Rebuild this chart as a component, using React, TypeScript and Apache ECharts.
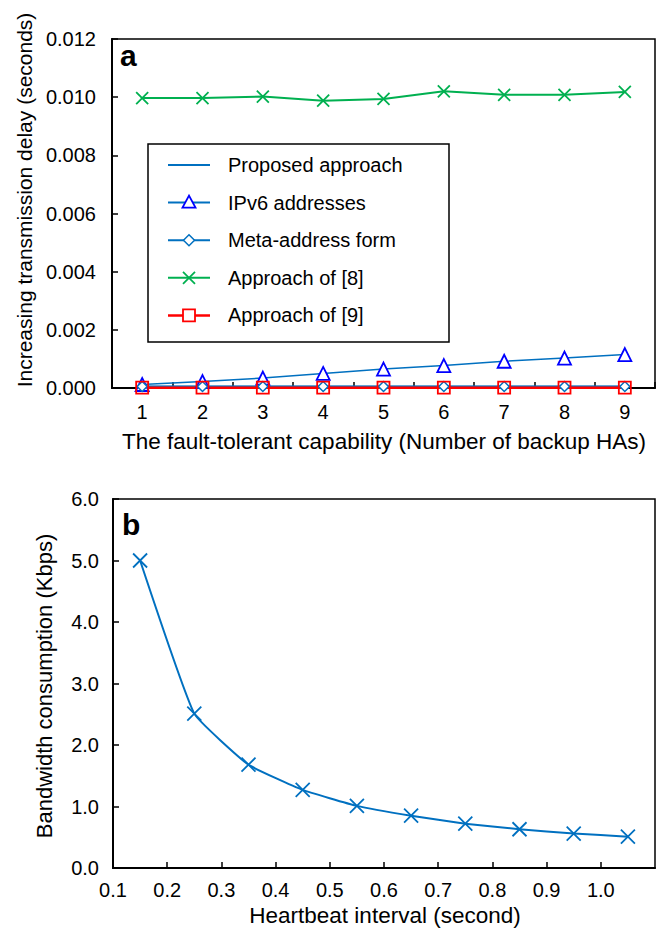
import React, { useEffect, useRef } from "react";
import * as echarts from "echarts";

const capabilityLabels = ["1", "2", "3", "4", "5", "6", "7", "8", "9"];
const proposedDelay = [0.00005, 0.00005, 0.00005, 0.00005, 0.00005, 0.00005, 0.00005, 0.00005, 0.00005];
const ipv6Delay = [0.00012, 0.00022, 0.00034, 0.0005, 0.00065, 0.00077, 0.00092, 0.00103, 0.00115];
const metaDelay = [0.00005, 0.00005, 0.00005, 0.00005, 0.00005, 0.00005, 0.00005, 0.00005, 0.00005];
const approach8Delay = [0.00997, 0.00997, 0.01002, 0.00988, 0.00994, 0.0102, 0.01008, 0.01008, 0.01018];
const approach9Delay = [0.00001, 0.00001, 0.00001, 0.00001, 0.00001, 0.00001, 0.00001, 0.00001, 0.00001];

const heartbeatInterval = [0.15, 0.25, 0.35, 0.45, 0.55, 0.65, 0.75, 0.85, 0.95, 1.05];
const bandwidth = [5.0, 2.51, 1.68, 1.27, 1.01, 0.85, 0.72, 0.63, 0.56, 0.51];

const seriesNames = ["Proposed approach", "IPv6 addresses", "Meta-address form", "Approach of [8]", "Approach of [9]"];

const FONT = "'Liberation Sans', Arial, Helvetica, sans-serif";
const X_SYMBOL = "path://M0 0L10 10M10 0L0 10";
const BLUE = "#0070C0";
const TRI = "#0000FF";
const GREEN = "#00B050";
const RED = "#FF0000";

function legendGraphics() {
  const items: any[] = [];
  const x0 = 168;
  const x1 = 210;
  const cx = (x0 + x1) / 2;
  const lineColors = [BLUE, BLUE, BLUE, GREEN, RED];
  seriesNames.forEach((name, i) => {
    const y = 165 + 37.6 * i;
    items.push({
      type: "line",
      z: 10,
      shape: { x1: x0, y1: y, x2: x1, y2: y },
      style: { stroke: lineColors[i], lineWidth: i === 4 ? 2.5 : 2 },
    });
    if (i === 1) {
      items.push({
        type: "polygon",
        z: 11,
        shape: { points: [[cx, y - 7], [cx - 6.5, y + 5], [cx + 6.5, y + 5]] },
        style: { fill: "#fff", stroke: TRI, lineWidth: 1.8 },
      });
    } else if (i === 2) {
      items.push({
        type: "polygon",
        z: 11,
        shape: { points: [[cx, y - 5.5], [cx + 5.5, y], [cx, y + 5.5], [cx - 5.5, y]] },
        style: { fill: "#fff", stroke: BLUE, lineWidth: 1.5 },
      });
    } else if (i === 3) {
      items.push({
        type: "line",
        z: 11,
        shape: { x1: cx - 6, y1: y - 6, x2: cx + 6, y2: y + 6 },
        style: { stroke: GREEN, lineWidth: 1.8 },
      });
      items.push({
        type: "line",
        z: 11,
        shape: { x1: cx - 6, y1: y + 6, x2: cx + 6, y2: y - 6 },
        style: { stroke: GREEN, lineWidth: 1.8 },
      });
    } else if (i === 4) {
      items.push({
        type: "rect",
        z: 11,
        shape: { x: cx - 6, y: y - 6, width: 12, height: 12 },
        style: { fill: "#fff", stroke: RED, lineWidth: 1.8 },
      });
    }
    items.push({
      type: "text",
      z: 11,
      x: 228,
      y,
      style: { text: name, fontSize: 20, fontFamily: FONT, fill: "#000", verticalAlign: "middle", align: "left" },
    });
  });
  return items;
}

export default function App() {
  const ref = useRef<HTMLDivElement>(null);
  useEffect(() => {
    if (!ref.current) return;
    const chart = echarts.init(ref.current, null, { renderer: "svg" });
    const axisLine = { show: true, lineStyle: { color: "#000", width: 2 } };
    const axisTick = { show: true, inside: true, length: 6, lineStyle: { color: "#000", width: 1.5 } };
    const labelStyle = { color: "#000", fontSize: 20, fontFamily: FONT };
    const titleStyle = (size: number) => ({
      fontSize: size,
      fontFamily: FONT,
      fill: "#000",
      align: "center",
      verticalAlign: "middle",
    });
    const option: any = {
      animation: false,
      backgroundColor: "#fff",
      textStyle: { fontFamily: FONT },
      grid: [
        { left: 112, top: 39, width: 543, height: 349, show: true, borderColor: "#000", borderWidth: 1.5, containLabel: false },
        { left: 113, top: 499, width: 542, height: 369, show: true, borderColor: "#000", borderWidth: 1.5, containLabel: false },
      ],
      xAxis: [
        {
          type: "category",
          gridIndex: 0,
          data: capabilityLabels,
          boundaryGap: true,
          axisLine,
          axisTick: { ...axisTick, interval: 0, alignWithLabel: false },
          axisLabel: { ...labelStyle, margin: 14, interval: 0 },
          splitLine: { show: false },
        },
        {
          type: "value",
          gridIndex: 1,
          min: 0.1,
          max: 1.1,
          interval: 0.1,
          axisLine,
          axisTick,
          axisLabel: {
            ...labelStyle,
            margin: 12,
            showMaxLabel: false,
            formatter: (v: number) => (v > 1.05 ? "" : v.toFixed(1)),
          },
          splitLine: { show: false },
        },
      ],
      yAxis: [
        {
          type: "value",
          gridIndex: 0,
          min: 0,
          max: 0.012,
          interval: 0.002,
          axisLine,
          axisTick,
          axisLabel: { ...labelStyle, margin: 16, formatter: (v: number) => v.toFixed(3) },
          splitLine: { show: false },
        },
        {
          type: "value",
          gridIndex: 1,
          min: 0,
          max: 6,
          interval: 1,
          axisLine,
          axisTick,
          axisLabel: { ...labelStyle, margin: 14, formatter: (v: number) => v.toFixed(1) },
          splitLine: { show: false },
        },
      ],
      graphic: [
        {
          type: "rect",
          z: 9,
          shape: { x: 148, y: 144, width: 301, height: 198 },
          style: { fill: "#fff", stroke: "#000", lineWidth: 1.5 },
        },
        ...legendGraphics(),
        {
          type: "text",
          x: 120,
          y: 55,
          style: { text: "a", fontSize: 30, fontWeight: "bold", fontFamily: FONT, fill: "#000", verticalAlign: "middle" },
        },
        {
          type: "text",
          x: 122,
          y: 524,
          style: { text: "b", fontSize: 30, fontWeight: "bold", fontFamily: FONT, fill: "#000", verticalAlign: "middle" },
        },
        {
          type: "text",
          x: 24,
          y: 200,
          rotation: Math.PI / 2,
          style: { text: "Increasing transmission delay (seconds)", ...titleStyle(21) },
        },
        {
          type: "text",
          x: 384,
          y: 441,
          style: { text: "The fault-tolerant capability (Number of backup HAs)", ...titleStyle(22.5) },
        },
        {
          type: "text",
          x: 44,
          y: 686,
          rotation: Math.PI / 2,
          style: { text: "Bandwidth consumption (Kbps)", ...titleStyle(22) },
        },
        {
          type: "text",
          x: 385,
          y: 915,
          style: { text: "Heartbeat interval (second)", ...titleStyle(22.5) },
        },
      ],
      series: [
        {
          name: seriesNames[0],
          type: "line",
          xAxisIndex: 0,
          yAxisIndex: 0,
          data: proposedDelay,
          symbol: "none",
          color: BLUE,
          lineStyle: { color: BLUE, width: 2, type: "solid" },
        },
        {
          name: seriesNames[1],
          type: "line",
          xAxisIndex: 0,
          yAxisIndex: 0,
          data: ipv6Delay,
          symbol: "triangle",
          symbolSize: 13,
          color: TRI,
          lineStyle: { color: BLUE, width: 1.5, type: "solid" },
          itemStyle: { color: "#fff", borderColor: TRI, borderWidth: 1.8 },
        },
        {
          name: seriesNames[2],
          type: "line",
          xAxisIndex: 0,
          yAxisIndex: 0,
          data: metaDelay,
          symbol: "diamond",
          symbolSize: 10,
          color: BLUE,
          lineStyle: { color: BLUE, width: 1.5, type: "solid" },
          itemStyle: { color: "#fff", borderColor: BLUE, borderWidth: 1.5 },
        },
        {
          name: seriesNames[3],
          type: "line",
          xAxisIndex: 0,
          yAxisIndex: 0,
          data: approach8Delay,
          symbol: X_SYMBOL,
          symbolSize: 12,
          color: GREEN,
          lineStyle: { color: GREEN, width: 2, type: "solid" },
          itemStyle: { color: "none", borderColor: GREEN, borderWidth: 1.8 },
        },
        {
          name: seriesNames[4],
          type: "line",
          xAxisIndex: 0,
          yAxisIndex: 0,
          data: approach9Delay,
          symbol: "rect",
          symbolSize: 12,
          color: RED,
          lineStyle: { color: RED, width: 2.5, type: "solid" },
          itemStyle: { color: "none", borderColor: RED, borderWidth: 1.8 },
        },
        {
          name: "Bandwidth",
          type: "line",
          xAxisIndex: 1,
          yAxisIndex: 1,
          data: heartbeatInterval.map((x, i) => [x, bandwidth[i]]),
          smooth: 0.12,
          symbol: X_SYMBOL,
          symbolSize: 14,
          color: BLUE,
          lineStyle: { color: BLUE, width: 2, type: "solid" },
          itemStyle: { color: "none", borderColor: BLUE, borderWidth: 1.8 },
        },
      ],
    };
    chart.setOption(option);
    return () => chart.dispose();
  }, []);
  return (
    <div
      ref={ref}
      style={{ position: "fixed", left: 0, top: 0, width: 662, height: 934, background: "#fff" }}
    />
  );
}
